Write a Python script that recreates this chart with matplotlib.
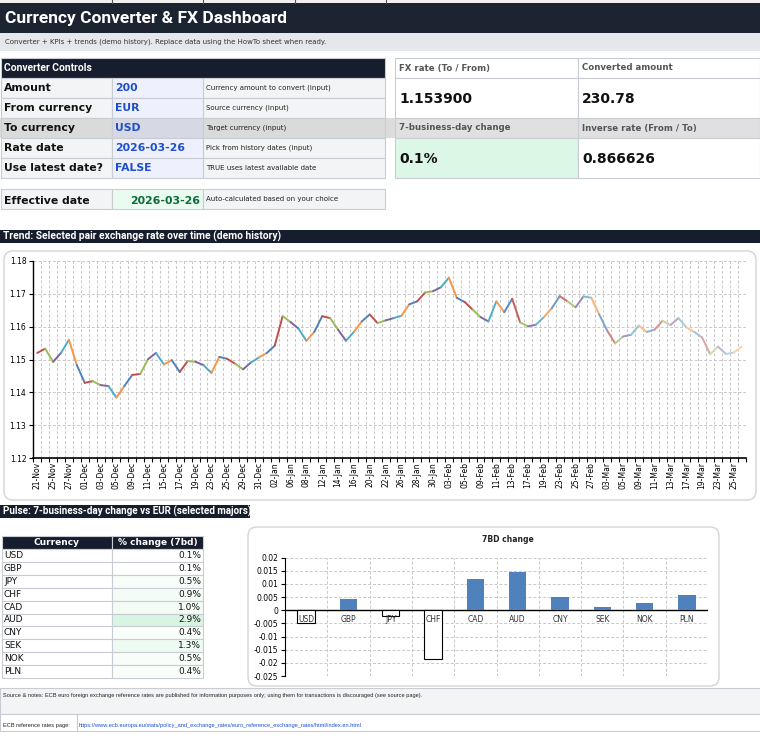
import numpy as np
import pandas as pd
import matplotlib
matplotlib.use("Agg")
import matplotlib.pyplot as plt
from matplotlib.patches import Rectangle, FancyBboxPatch
from matplotlib.colors import to_rgb

#-------------------------------
# DATA
#-------------------------------
dates = pd.bdate_range("2025-11-21", "2026-03-26")
rates = [1.1520, 1.1533, 1.1493, 1.1520, 1.1560, 1.1483, 1.1429, 1.1434, 1.1422, 1.1419,
         1.1384, 1.1419, 1.1453, 1.1456, 1.1501, 1.1520, 1.1485, 1.1498, 1.1462, 1.1495,
         1.1493, 1.1483, 1.1459, 1.1508, 1.1502, 1.1487, 1.1470, 1.1491, 1.1506, 1.1520,
         1.1542, 1.1632, 1.1614, 1.1594, 1.1557, 1.1584, 1.1632, 1.1626, 1.1591, 1.1557,
         1.1584, 1.1616, 1.1637, 1.1611, 1.1619, 1.1626, 1.1633, 1.1668, 1.1677, 1.1704,
         1.1708, 1.1720, 1.1749, 1.1688, 1.1675, 1.1652, 1.1629, 1.1616, 1.1677, 1.1644,
         1.1685, 1.1613, 1.1601, 1.1606, 1.1629, 1.1656, 1.1693, 1.1677, 1.1659, 1.1692,
         1.1688, 1.1637, 1.1588, 1.1549, 1.1570, 1.1575, 1.1603, 1.1584, 1.1591, 1.1618,
         1.1605, 1.1626, 1.1598, 1.1584, 1.1567, 1.1516, 1.1539, 1.1517, 1.1521, 1.1539]
y_ticks = [1.12, 1.13, 1.14, 1.15, 1.16, 1.17, 1.18]

pulse_ccy = ["USD", "GBP", "JPY", "CHF", "CAD", "AUD", "CNY", "SEK", "NOK", "PLN"]
pulse_pct = [0.1, 0.1, 0.5, 0.9, 1.0, 2.9, 0.4, 1.3, 0.5, 0.4]
bar_chg = [-0.005, 0.0043, -0.0023, -0.0185, 0.012, 0.0145, 0.0052, 0.0012, 0.0028, 0.006]
bar_ticks = [-0.025, -0.02, -0.015, -0.01, -0.005, 0, 0.005, 0.01, 0.015, 0.02]

controls = [("Amount", "200", "Currency amount to convert (input)"),
            ("From currency", "EUR", "Source currency (input)"),
            ("To currency", "USD", "Target currency (input)"),
            ("Rate date", "2026-03-26", "Pick from history dates (input)"),
            ("Use latest date?", "FALSE", "TRUE uses latest available date")]
kpis = [("FX rate (To / From)", "1.153900"), ("Converted amount", "230.78"),
        ("7-business-day change", "0.1%"), ("Inverse rate (From / To)", "0.866626")]

#-------------------------------
# STYLE
#-------------------------------
W, H = 760, 747
NAVY = "#161d2c"
CELL = "#f3f4f6"
EDGE = "#c9ccd2"
BLUE_TXT = "#1f4fc8"
NARROW = ["Roboto", "DejaVu Sans"]
SMALL = ["Liberation Sans", "DejaVu Sans"]
palette = ["#4f81bd", "#c0504d", "#9bbb59", "#8064a2", "#4bacc6", "#f79646"]

fig = plt.figure(figsize=(W / 100, H / 100), dpi=100)
fig.patch.set_facecolor("white")
bg = fig.add_axes([0, 0, 1, 1])
bg.set_xlim(0, W)
bg.set_ylim(H, 0)
bg.axis("off")


def box(x0, y0, x1, y1, fc, ec=EDGE, lw=0.8):
    bg.add_patch(Rectangle((x0, y0), x1 - x0, y1 - y0, facecolor=fc, edgecolor=ec, lw=lw))


def txt(x, y, s, size, color="black", weight="normal", ha="left", family="DejaVu Sans"):
    bg.text(x, y, s, fontsize=size, color=color, fontweight=weight, ha=ha, va="center",
            family=family)


def px_axes(x0, y0, x1, y1):
    return fig.add_axes([x0 / W, 1 - y1 / H, (x1 - x0) / W, (y1 - y0) / H])


#-------------------------------
# TITLE
#-------------------------------
box(0, -1, W, 3, "#f0f0f0", ec="none")
for gx in [112, 203, 295, 386]:
    bg.plot([gx, gx], [-1, 3], color="#555555", lw=0.8)
box(0, 3, W, 33, "#1c2331", ec="none")
txt(5, 18.5, "Currency Converter & FX Dashboard", 12.5, "white", "bold", family=NARROW)
box(0, 33, W, 51, "#e6e7ea", ec="none")
txt(5, 42, "Converter + KPIs + trends (demo history). Replace data using the HowTo sheet when ready.",
    5, "#333333")

#-------------------------------
# CONVERTER CONTROLS
#-------------------------------
box(1, 58, 385, 78, NAVY, ec=EDGE)
txt(4, 68, "Converter Controls", 7.4, "white", "bold", family=NARROW)
box(0, 118, W, 138, "#dcdcdc", ec="none")
for r, (lab, val, desc) in enumerate(controls):
    y0 = 78 + r * 20
    hl = lab == "To currency"
    box(1, y0, 112, y0 + 20, "#dadada" if hl else CELL)
    box(112, y0, 203, y0 + 20, "#d6d9e4" if hl else "#eef1fd")
    box(203, y0, 385, y0 + 20, "#dadada" if hl else CELL)
    txt(4, y0 + 10, lab, 7.8, "#111111", "bold")
    txt(115, y0 + 10, val, 7.8, BLUE_TXT, "bold")
    txt(206, y0 + 10, desc, 5, "#222222")

box(1, 189, 112, 209, CELL)
box(112, 189, 203, 209, "#eafbf0")
box(203, 189, 385, 209, CELL)
txt(4, 201, "Effective date", 7.8, "#111111", "bold")
txt(200, 201, "2026-03-26", 7.8, "#0b6b3a", "bold", ha="right")
txt(206, 199, "Auto-calculated based on your choice", 5, "#222222")

#-------------------------------
# KPI PANEL
#-------------------------------
for k, (lab, val) in enumerate(kpis):
    cx0 = 395 if k % 2 == 0 else 578
    cx1 = 578 if k % 2 == 0 else 760
    y0 = 58 + (k // 2) * 60
    head_fc = "#e0e0e0" if k >= 2 else "white"
    val_fc = "#dcf7e6" if k == 2 else "white"
    box(cx0, y0, cx1, y0 + 20, head_fc)
    box(cx0, y0 + 20, cx1, y0 + 60, val_fc)
    txt(cx0 + 4, y0 + 10, lab, 6.2, "#555555", "bold")
    txt(cx0 + 4, y0 + 41, val, 10, "#111111", "bold")

#-------------------------------
# TREND LINE CHART
#-------------------------------
box(0, 230, W, 243, NAVY, ec="none")
txt(3, 236.5, "Trend: Selected pair exchange rate over time (demo history)", 7.4, "white", "bold",
    family=NARROW)
bg.add_patch(FancyBboxPatch((4, 251), 752, 249, boxstyle="round,pad=0,rounding_size=9",
                            facecolor="white", edgecolor="#d4d4d4", lw=1))

ax = px_axes(33.3, 261, 745.7, 458)
ax.set_facecolor("none")
n = len(rates)
xs = np.arange(n)
for i in range(1, n):
    c = np.array(to_rgb(palette[i % 6]))
    tint = min(max((i - 56) / 33.0, 0), 1) * 0.55
    c = c + (1 - c) * tint
    ax.plot(xs[i - 1:i + 1], rates[i - 1:i + 1], color=c, lw=1.4, solid_capstyle="round")
ax.set_xlim(-0.5, n - 0.5)
ax.set_ylim(1.12, 1.18)
ax.set_yticks(y_ticks)
ax.set_yticklabels([f"{v:.2f}" for v in y_ticks], fontsize=5.5)
for v in y_ticks[1:]:
    ax.axhline(v, color="#c8c8c8", lw=0.7, ls=(0, (3, 2)), zorder=0)
for b in np.arange(0.5, n - 0.5, 1):
    ax.axvline(b, color="#c8c8c8", lw=0.7, ls=(0, (3, 2)), zorder=0)
ax.set_xticks(xs[::2])
ax.set_xticklabels([d.strftime("%d-%b") for d in dates[::2]], rotation=90, fontsize=5.5)
ax.tick_params(axis="x", length=0, pad=3)
ax.set_xticks(np.arange(-0.5, n, 1), minor=True)
ax.tick_params(axis="x", which="minor", length=3, width=0.8, direction="out")
ax.tick_params(axis="y", length=3, width=0.8, pad=2)
for s in ["top", "right"]:
    ax.spines[s].set_visible(False)
ax.spines["left"].set_linewidth(1)
ax.spines["bottom"].set_linewidth(1.2)

#-------------------------------
# PULSE TABLE
#-------------------------------
box(0, 505, 250, 518, NAVY, ec="none")
txt(3, 511.5, "Pulse: 7-business-day change vs EUR (selected majors)", 7.1, "white", "bold",
    family=NARROW)
box(2, 536, 112, 549, NAVY, ec=EDGE)
box(112, 536, 203, 549, NAVY, ec=EDGE)
txt(57, 542.5, "Currency", 6.5, "white", "bold", ha="center")
txt(157.5, 542.5, "% change (7bd)", 6.5, "white", "bold", ha="center")
g_hi = np.array(to_rgb("#d8f5e2"))
for r, (cc, pc) in enumerate(zip(pulse_ccy, pulse_pct)):
    y0 = 549 + r * 12.9
    fc = 1 - (1 - g_hi) * (pc / max(pulse_pct))
    box(2, y0, 112, y0 + 12.9, "white")
    box(112, y0, 203, y0 + 12.9, tuple(fc))
    txt(4, y0 + 6.5, cc, 6.5, "#111111")
    txt(201, y0 + 6.5, f"{pc:.1f}%", 6.5, "#111111", ha="right")

#-------------------------------
# 7BD BAR CHART
#-------------------------------
bg.add_patch(FancyBboxPatch((248, 527), 471, 159, boxstyle="round,pad=0,rounding_size=9",
                            facecolor="white", edgecolor="#d4d4d4", lw=1))
txt(482, 540, "7BD change", 5.5, "#222222", "bold")
bx = px_axes(285, 557.7, 708, 676)
bx.set_facecolor("none")
cats = np.arange(len(pulse_ccy))
for i, v in zip(cats, bar_chg):
    if v >= 0:
        bx.bar(i, v, width=0.41, color="#4f81bd", zorder=2)
    else:
        bx.bar(i, v, width=0.41, facecolor="white", edgecolor="black", lw=0.8, zorder=2)
    bx.annotate(pulse_ccy[i], (i, 0), xytext=(0, -3.5), textcoords="offset points",
                ha="center", va="top", fontsize=5.5, color="#333333", zorder=3)
bx.set_xlim(-0.5, len(cats) - 0.5)
bx.set_ylim(-0.025, 0.02)
bx.set_yticks(bar_ticks)
bx.set_yticklabels([f"{t:g}" for t in bar_ticks], fontsize=5.5)
bx.tick_params(axis="y", length=3, width=0.8, pad=2)
bx.set_xticks([])
for t in bar_ticks:
    if t != 0:
        bx.axhline(t, color="#c8c8c8", lw=0.7, ls=(0, (3, 2)), zorder=0)
for b in np.arange(0.5, len(cats), 1):
    bx.axvline(b, color="#c8c8c8", lw=0.7, ls=(0, (3, 2)), zorder=0)
bx.axhline(0, color="black", lw=1, zorder=1)
for s in ["top", "right", "bottom"]:
    bx.spines[s].set_visible(False)

#-------------------------------
# FOOTER
#-------------------------------
box(0, 688, W + 1, 714, CELL)
txt(3, 695.5, "Source & notes: ECB euro foreign exchange reference rates are published for information "
    "purposes only; using them for transactions is discouraged (see source page).", 4.1, "#222222",
    family=SMALL)
box(0, 714, 77, 731, "white")
box(77, 714, W + 1, 731, "white")
txt(3, 725, "ECB reference rates page:", 4.1, "#222222", family=SMALL)
txt(79, 725, "https://www.ecb.europa.eu/stats/policy_and_exchange_rates/euro_reference_exchange_rates/html/index.en.html",
    4.1, "#1a4fd6", family=SMALL)

fig.savefig("out.png", dpi=100)
